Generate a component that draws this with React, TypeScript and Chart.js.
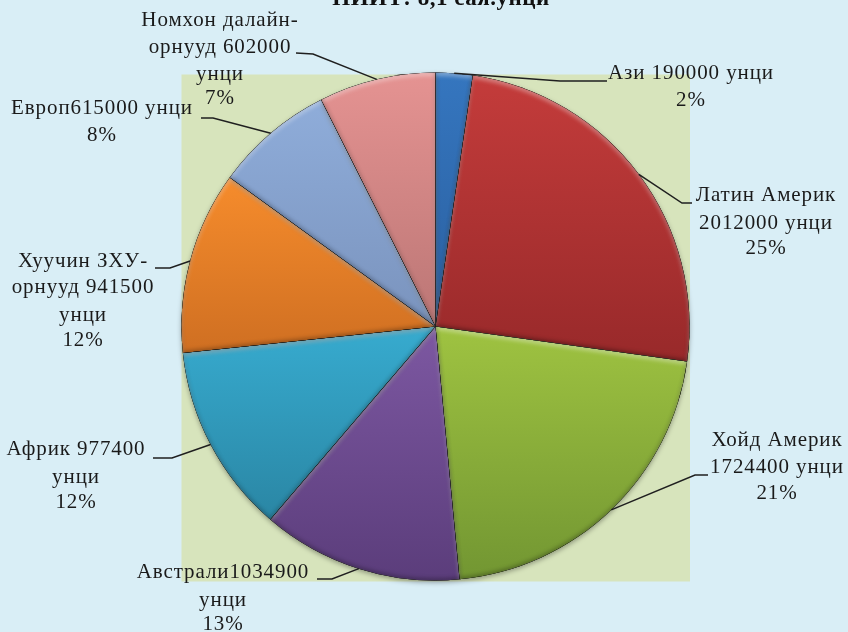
import React, { useEffect, useRef } from "react";
import { Chart, registerables } from "chart.js";

Chart.register(...registerables);

const categories = ["Ази", "Латин Америк", "Хойд Америк", "Австрали", "Африк", "Хуучин ЗХУ-орнууд", "Европ", "Номхон далайн-орнууд"];
const values = [190000, 2012000, 1724400, 1034900, 977400, 941500, 615000, 602000];
const labelLines = [
  ["Ази 190000 унци"],
  ["Латин Америк", "2012000 унци"],
  ["Хойд Америк", "1724400 унци"],
  ["Австрали1034900", "унци"],
  ["Африк 977400", "унци"],
  ["Хуучин ЗХУ-", "орнууд 941500", "унци"],
  ["Европ615000 унци"],
  ["Номхон далайн-", "орнууд 602000", "унци"],
];
const titleText = "НИЙТ: 8,1 сая.унци";

const topColors = ["#3576bf", "#c43c3b", "#9fc341", "#7d58a2", "#37abcf", "#f68c2c", "#8fadda", "#e59392"];
const bottomColors = ["#2a5f9f", "#98292a", "#729632", "#5b3d7b", "#2a86a4", "#cf6f22", "#7a93bd", "#bb7675"];

// Placement of the outside labels: text centre, line centres, and the elbow of each leader.
const labelPlacement = [
  { x: 691, ys: [73, 100], from: [607, 81], elbow: [560, 81] },
  { x: 766, ys: [195, 223, 248], from: [692, 203], elbow: [682, 203] },
  { x: 777, ys: [440, 467, 493], from: [708, 475], elbow: [695, 475] },
  { x: 223, ys: [572, 600, 624], from: [317, 579], elbow: [332, 579] },
  { x: 76, ys: [449, 477, 502], from: [153, 458], elbow: [172, 458] },
  { x: 83, ys: [261, 287, 315, 340], from: [155, 268], elbow: [170, 268] },
  { x: 102, ys: [108, 135], from: [201, 118], elbow: [213, 118] },
  { x: 220, ys: [20, 47, 74, 98], from: [296, 53], elbow: [313, 54] },
];

const PAGE_BG = "#d9eef6";
const PLOT_BG = "#d7e4bc";
const TEXT = "#1a1a1a";
const PLOT = { left: 181.5, top: 74.5, right: 690, bottom: 581.5 };

function sliceGradient(ctx: any) {
  const chart = ctx.chart;
  const i = ctx.dataIndex;
  const area = chart.chartArea;
  if (!area || i === undefined) return topColors[i ?? 0];
  const total = values.reduce((a, b) => a + b, 0);
  const before = values.slice(0, i).reduce((a, b) => a + b, 0);
  const a0 = (before / total) * Math.PI * 2;
  const a1 = ((before + values[i]) / total) * Math.PI * 2;
  const cy = (area.top + area.bottom) / 2;
  const r = (area.bottom - area.top) / 2;
  const ys = [cy];
  for (let k = 0; k <= 24; k++) {
    const a = a0 + ((a1 - a0) * k) / 24;
    ys.push(cy - Math.cos(a) * r);
  }
  const g = chart.ctx.createLinearGradient(0, Math.min(...ys), 0, Math.max(...ys));
  g.addColorStop(0, topColors[i]);
  g.addColorStop(1, bottomColors[i]);
  return g;
}

function arcPath(ctx: CanvasRenderingContext2D, el: any) {
  ctx.moveTo(el.x, el.y);
  ctx.arc(el.x, el.y, el.outerRadius, el.startAngle, el.endAngle);
  ctx.closePath();
}

const decorPlugin = {
  id: "decor",
  beforeDraw(chart: any) {
    const { ctx, width, height } = chart;
    ctx.save();
    ctx.fillStyle = PAGE_BG;
    ctx.fillRect(0, 0, width, height);
    ctx.fillStyle = PLOT_BG;
    ctx.fillRect(PLOT.left, PLOT.top, PLOT.right - PLOT.left, PLOT.bottom - PLOT.top);
    ctx.restore();
  },
  beforeDatasetDraw(chart: any) {
    const { ctx } = chart;
    ctx.save();
    ctx.shadowColor = "rgba(0,0,0,0.35)";
    ctx.shadowBlur = 5;
    ctx.shadowOffsetY = 2;
  },
  afterDatasetDraw(chart: any) {
    chart.ctx.restore();
  },
  afterDatasetsDraw(chart: any) {
    const { ctx, width, height } = chart;
    const arcs = chart.getDatasetMeta(0).data;
    const passes = [
      { color: "rgba(255,255,255,0.38)", dx: 0, dy: 3, blur: 4 },
      { color: "rgba(0,0,0,0.3)", dx: 0, dy: -2, blur: 4 },
    ];
    arcs.forEach((el: any) => {
      passes.forEach((p) => {
        ctx.save();
        ctx.beginPath();
        arcPath(ctx, el);
        ctx.clip();
        ctx.beginPath();
        ctx.rect(-50, -50, width + 100, height + 100);
        arcPath(ctx, el);
        ctx.shadowColor = p.color;
        ctx.shadowBlur = p.blur;
        ctx.shadowOffsetX = p.dx;
        ctx.shadowOffsetY = p.dy;
        ctx.fillStyle = "#000";
        ctx.fill("evenodd");
        ctx.restore();
      });
    });
  },
  afterDraw(chart: any) {
    const { ctx } = chart;
    const arcs = chart.getDatasetMeta(0).data;
    const total = values.reduce((a, b) => a + b, 0);
    ctx.save();
    ctx.strokeStyle = "#1f1f1f";
    ctx.lineWidth = 1.5;
    arcs.forEach((el: any, i: number) => {
      const p = labelPlacement[i];
      const mid = (el.startAngle + el.endAngle) / 2;
      ctx.beginPath();
      ctx.moveTo(p.from[0], p.from[1]);
      ctx.lineTo(p.elbow[0], p.elbow[1]);
      ctx.lineTo(el.x + Math.cos(mid) * el.outerRadius, el.y + Math.sin(mid) * el.outerRadius);
      ctx.stroke();
    });
    ctx.fillStyle = TEXT;
    ctx.textAlign = "center";
    ctx.textBaseline = "middle";
    ctx.font = '21px "Liberation Serif"';
    (ctx as any).letterSpacing = "0.9px";
    labelLines.forEach((lines, i) => {
      const p = labelPlacement[i];
      const all = [...lines, `${Math.round((values[i] / total) * 100)}%`];
      all.forEach((t, k) => ctx.fillText(t, p.x, p.ys[k]));
    });
    ctx.font = 'bold 23px "Liberation Serif"';
    (ctx as any).letterSpacing = "0.5px";
    ctx.fillStyle = "#111";
    ctx.textBaseline = "alphabetic";
    ctx.fillText(titleText, 441, 5);
    ctx.restore();
  },
};

export default function App() {
  const ref = useRef<HTMLCanvasElement>(null);
  useEffect(() => {
    document.body.style.margin = "0";
    const chart = new Chart(ref.current as HTMLCanvasElement, {
      type: "pie",
      data: {
        labels: categories,
        datasets: [{ data: values, backgroundColor: sliceGradient as any, borderWidth: 0 }],
      },
      options: {
        animation: false,
        responsive: false,
        layout: { padding: { left: 181.5, right: 158.5, top: 72.5, bottom: 51.5 } },
        plugins: { legend: { display: false }, tooltip: { enabled: false }, title: { display: false } },
      },
      plugins: [decorPlugin],
    } as any);
    return () => chart.destroy();
  }, []);
  return <canvas ref={ref} width={848} height={632} style={{ display: "block" }} />;
}
